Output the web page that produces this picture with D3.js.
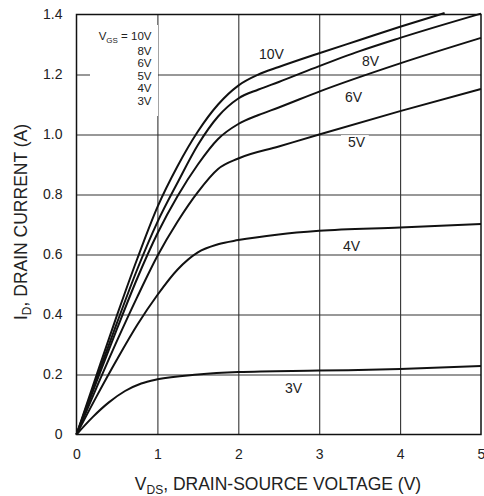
<!DOCTYPE html>
<html>
<head>
<meta charset="utf-8">
<script src="https://cdn.jsdelivr.net/npm/d3@7"></script>
<style>
  body { margin: 0; background: #fff; }
  text { font-family: "Liberation Sans", Arial, sans-serif; fill: #222; }
</style>
</head>
<body>
<div id="chart"></div>
<script>
// I-V curves, [VDS (V), ID (A)]
const curve10V = [[0,0],[0.25,0.2],[0.5,0.397],[0.75,0.585],[1,0.758],[1.25,0.895],[1.5,1.01],[1.75,1.1],[2,1.163],[2.25,1.2],[2.5,1.225],[3,1.271],[3.5,1.315],[4,1.359],[4.55,1.405]];
const curve8V  = [[0,0],[0.25,0.188],[0.5,0.372],[0.75,0.55],[1,0.708],[1.25,0.84],[1.5,0.965],[1.75,1.06],[2,1.12],[2.25,1.15],[2.5,1.175],[3,1.228],[3.5,1.278],[4,1.322],[5,1.403]];
const curve6V  = [[0,0],[0.25,0.178],[0.5,0.352],[0.75,0.52],[1,0.67],[1.25,0.795],[1.5,0.9],[1.75,0.985],[2,1.035],[2.25,1.065],[2.5,1.09],[3,1.143],[4,1.237],[5,1.322]];
const curve5V  = [[0,0],[0.25,0.158],[0.5,0.312],[0.75,0.458],[1,0.595],[1.25,0.71],[1.5,0.808],[1.75,0.885],[2,0.92],[2.5,0.96],[3,1.0],[4,1.078],[5,1.152]];
const curve4V  = [[0,0],[0.25,0.128],[0.5,0.25],[0.75,0.365],[1,0.465],[1.25,0.55],[1.5,0.607],[1.75,0.634],[2,0.648],[2.5,0.667],[3,0.679],[4,0.69],[5,0.702]];
const curve3V  = [[0,0],[0.2,0.058],[0.4,0.107],[0.6,0.145],[0.8,0.17],[1,0.184],[1.5,0.2],[2,0.208],[3,0.213],[4,0.218],[5,0.228]];

const curves = [curve10V, curve8V, curve6V, curve5V, curve4V, curve3V];
const curveNames = ["10V", "8V", "6V", "5V", "4V", "3V"];
// where each curve's label sits, in data units (start x, baseline y)
const labelAt = [[2.256,1.252],[3.53,1.228],[3.32,1.108],[3.356,0.958],[3.294,0.612],[2.577,0.138]];

const xTicks = [0, 1, 2, 3, 4, 5];
const xTickLabels = ["0", "1", "2", "3", "4", "5"];
const yTicks = [0, 0.2, 0.4, 0.6, 0.8, 1.0, 1.2, 1.4];
const yTickLabels = ["0", "0.2", "0.4", "0.6", "0.8", "1.0", "1.2", "1.4"];
const legendLines = ["8V", "6V", "5V", "4V", "3V"];

const margin = {top: 14.5, right: 3, bottom: 61.5, left: 76.5},
    width = 484 - margin.left - margin.right,
    height = 496 - margin.top - margin.bottom;

const svg = d3.select("#chart")
  .append("svg")
    .attr("width", 484)
    .attr("height", 496)
  .append("g")
    .attr("transform", `translate(${margin.left},${margin.top})`);

const x = d3.scaleLinear().domain([0, 5]).range([0, width]);
const y = d3.scaleLinear().domain([0, 1.4]).range([height, 0]);

// grid
svg.append("g")
    .attr("transform", `translate(0,${height})`)
    .call(d3.axisBottom(x).tickValues(xTicks.slice(1, -1)).tickSize(-height).tickFormat(""))
    .call(g => g.select(".domain").remove())
    .call(g => g.selectAll("line").attr("stroke", "#333").attr("stroke-width", 1.1));
svg.append("g")
    .call(d3.axisLeft(y).tickValues(yTicks.slice(1, -1)).tickSize(-width).tickFormat(""))
    .call(g => g.select(".domain").remove())
    .call(g => g.selectAll("line").attr("stroke", "#333").attr("stroke-width", 1.1));

// tick labels
svg.append("g")
    .attr("transform", `translate(0,${height})`)
    .call(d3.axisBottom(x).tickValues(xTicks).tickSize(0).tickPadding(15)
      .tickFormat((d, i) => xTickLabels[i]))
    .call(g => g.select(".domain").remove())
    .call(g => g.selectAll("text").attr("font-size", 14).attr("font-family", null).attr("fill", "#222"));
svg.append("g")
    .call(d3.axisLeft(y).tickValues(yTicks).tickSize(0).tickPadding(14)
      .tickFormat((d, i) => yTickLabels[i]))
    .call(g => g.select(".domain").remove())
    .call(g => g.selectAll("text").attr("font-size", 14).attr("font-family", null).attr("fill", "#222"));

// legend block with white background over the grid
svg.append("rect")
    .attr("x", 90 - margin.left).attr("y", 25 - margin.top)
    .attr("width", 68).attr("height", 91)
    .attr("fill", "#fff");
const legendRight = 151.5 - margin.left;
const lt = svg.append("text")
    .attr("x", legendRight).attr("y", 40 - margin.top)
    .attr("text-anchor", "end").attr("font-size", 11.5);
lt.append("tspan").text("V");
lt.append("tspan").attr("font-size", 8).attr("dy", 3).text("GS");
lt.append("tspan").attr("dy", -3).text(" = 10V");
svg.selectAll(".legline")
  .data(legendLines)
  .join("text")
    .attr("class", "legline")
    .attr("x", legendRight)
    .attr("y", (d, i) => 54.5 - margin.top + i * 12.6)
    .attr("text-anchor", "end")
    .attr("font-size", 11.5)
    .text(d => d);

// curve labels, white behind so the grid breaks around them
const labels = svg.selectAll(".clab")
  .data(curveNames)
  .join("g")
    .attr("class", "clab")
    .attr("transform", (d, i) => `translate(${x(labelAt[i][0])},${y(labelAt[i][1])})`);
labels.append("text")
    .attr("font-size", 14)
    .text(d => d);
labels.each(function() {
  const g = d3.select(this);
  const bb = g.select("text").node().getBBox();
  g.insert("rect", "text")
    .attr("x", bb.x - 7).attr("y", bb.y + 1)
    .attr("width", bb.width + 10).attr("height", bb.height - 2)
    .attr("fill", "#fff");
});

// curves
const line = d3.line()
    .x(d => x(d[0]))
    .y(d => y(d[1]))
    .curve(d3.curveMonotoneX);
svg.selectAll(".curve")
  .data(curves)
  .join("path")
    .attr("class", "curve")
    .attr("d", line)
    .attr("fill", "none")
    .attr("stroke", "#111")
    .attr("stroke-width", 2);

// frame
svg.append("rect")
    .attr("width", width).attr("height", height)
    .attr("fill", "none")
    .attr("stroke", "#111")
    .attr("stroke-width", 1.5);

// axis titles
const xt = svg.append("text")
    .attr("x", 278 - margin.left).attr("y", 490 - margin.top)
    .attr("text-anchor", "middle").attr("font-size", 17.5);
xt.append("tspan").text("V");
xt.append("tspan").attr("font-size", 12).attr("dy", 4).text("DS");
xt.append("tspan").attr("dy", -4).text(", DRAIN-SOURCE VOLTAGE (V)");

const yt = svg.append("text")
    .attr("transform", `translate(${27 - margin.left},${222 - margin.top}) rotate(-90)`)
    .attr("text-anchor", "middle").attr("font-size", 17.5);
yt.append("tspan").text("I");
yt.append("tspan").attr("font-size", 12).attr("dy", 4).text("D");
yt.append("tspan").attr("dy", -4).text(", DRAIN CURRENT (A)");
</script>
</body>
</html>
